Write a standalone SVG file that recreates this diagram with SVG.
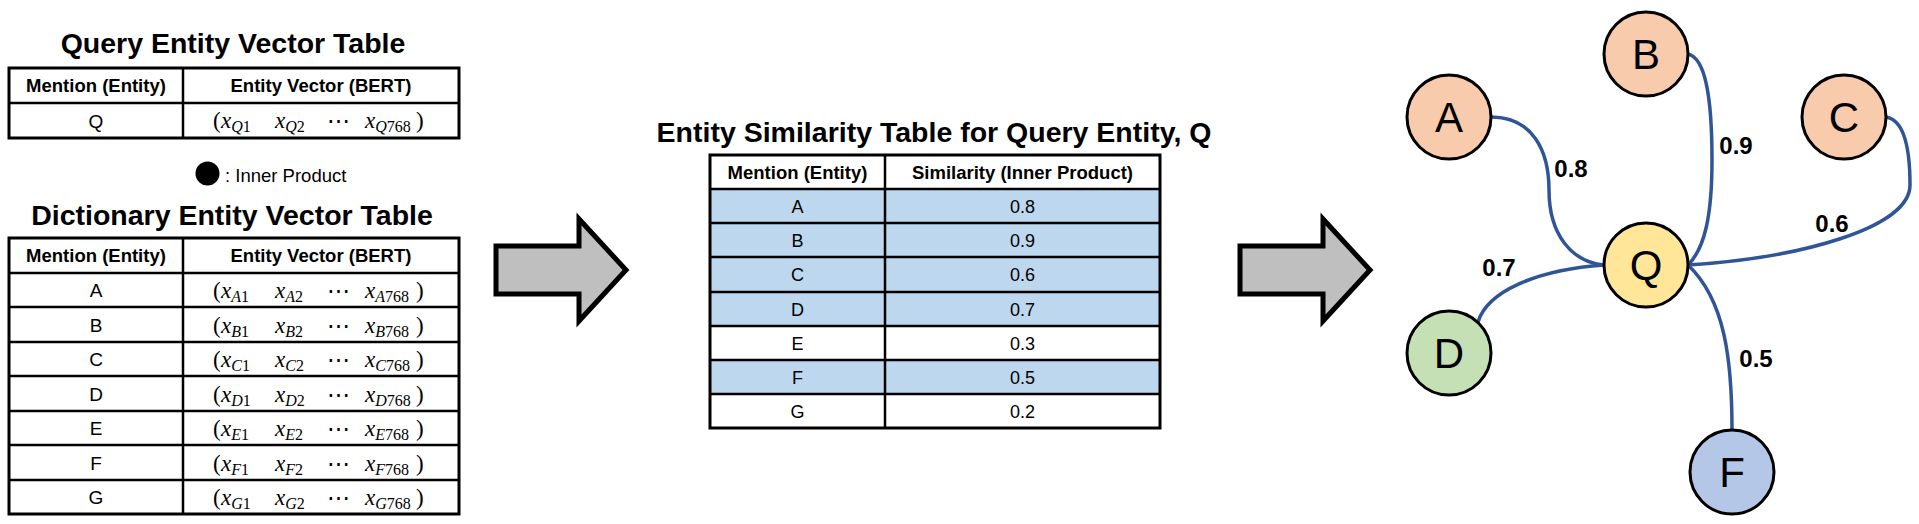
<svg xmlns="http://www.w3.org/2000/svg" width="1919" height="524" viewBox="0 0 1919 524">
<style>
text{font-family:"Liberation Sans",Arial,sans-serif;fill:#000}
.title{font-weight:bold;font-size:28.5px;text-anchor:middle}
.hdr{font-weight:bold;font-size:18.5px;text-anchor:middle}
.cell{font-size:19px;text-anchor:middle}
.scell{font-size:18px;text-anchor:middle}
.vec{font-family:"Liberation Serif","DejaVu Serif",serif;font-size:23px}
.it{font-style:italic}
.sub{font-size:16px}
.grid{stroke:#000;stroke-width:3;fill:none}
.ln{stroke:#000;stroke-width:2.5}
.node circle{stroke:#000;stroke-width:3}
.node text{font-size:42px;text-anchor:middle}
.edge{fill:none;stroke:#2F5597;stroke-width:3.5}
.elab{font-weight:bold;font-size:24px;text-anchor:middle}
.bigarrow{fill:#BFBFBF;stroke:#000;stroke-width:5;stroke-linejoin:miter}
.blue{fill:#BDD7EE}
</style>
<rect width="1919" height="524" fill="#fff"/>

<!-- Query table -->
<g id="query-table">
<text class="title" x="233" y="53">Query Entity Vector Table</text>
<rect class="grid" x="9" y="68" width="450" height="70"/>
<line class="ln" x1="183" y1="68" x2="183" y2="138"/>
<line class="ln" x1="9" y1="103" x2="459" y2="103"/>
<text class="hdr" x="96" y="92">Mention (Entity)</text>
<text class="hdr" x="321" y="92">Entity Vector (BERT)</text>
<text class="cell" x="96" y="127.5">Q</text>
<g transform="translate(0,128)">
<text class="vec" x="213">(</text>
<text class="vec" x="221"><tspan class="it">x</tspan><tspan class="sub" dy="4"><tspan class="it">Q</tspan>1</tspan></text>
<text class="vec" x="275"><tspan class="it">x</tspan><tspan class="sub" dy="4"><tspan class="it">Q</tspan>2</tspan></text>
<text class="vec" x="327">⋯</text>
<text class="vec" x="365"><tspan class="it">x</tspan><tspan class="sub" dy="4"><tspan class="it">Q</tspan>768</tspan></text>
<text class="vec" x="416">)</text>
</g>
</g>

<!-- Legend -->
<g id="legend">
<circle cx="207.5" cy="173.5" r="12" fill="#000"/>
<text x="225" y="182" font-size="18.5">: Inner Product</text>
</g>

<!-- Dictionary table -->
<g id="dictionary-table">
<text class="title" x="232" y="225">Dictionary Entity Vector Table</text>
<rect class="grid" x="9" y="238" width="450" height="276"/>
<line class="ln" x1="183" y1="238" x2="183" y2="514"/>
<line class="ln" x1="9" y1="273" x2="459" y2="273"/>
<line class="ln" x1="9" y1="307" x2="459" y2="307"/>
<line class="ln" x1="9" y1="342" x2="459" y2="342"/>
<line class="ln" x1="9" y1="376" x2="459" y2="376"/>
<line class="ln" x1="9" y1="411" x2="459" y2="411"/>
<line class="ln" x1="9" y1="445" x2="459" y2="445"/>
<line class="ln" x1="9" y1="480" x2="459" y2="480"/>
<text class="hdr" x="96" y="262">Mention (Entity)</text>
<text class="hdr" x="321" y="262">Entity Vector (BERT)</text>
<text class="cell" x="96" y="297">A</text>
<text class="cell" x="96" y="331.5">B</text>
<text class="cell" x="96" y="366">C</text>
<text class="cell" x="96" y="400.5">D</text>
<text class="cell" x="96" y="435">E</text>
<text class="cell" x="96" y="469.5">F</text>
<text class="cell" x="96" y="504">G</text>
<g transform="translate(0,298)">
<text class="vec" x="213">(</text>
<text class="vec" x="221"><tspan class="it">x</tspan><tspan class="sub" dy="4"><tspan class="it">A</tspan>1</tspan></text>
<text class="vec" x="275"><tspan class="it">x</tspan><tspan class="sub" dy="4"><tspan class="it">A</tspan>2</tspan></text>
<text class="vec" x="327">⋯</text>
<text class="vec" x="365"><tspan class="it">x</tspan><tspan class="sub" dy="4"><tspan class="it">A</tspan>768</tspan></text>
<text class="vec" x="416">)</text>
</g>
<g transform="translate(0,332.5)">
<text class="vec" x="213">(</text>
<text class="vec" x="221"><tspan class="it">x</tspan><tspan class="sub" dy="4"><tspan class="it">B</tspan>1</tspan></text>
<text class="vec" x="275"><tspan class="it">x</tspan><tspan class="sub" dy="4"><tspan class="it">B</tspan>2</tspan></text>
<text class="vec" x="327">⋯</text>
<text class="vec" x="365"><tspan class="it">x</tspan><tspan class="sub" dy="4"><tspan class="it">B</tspan>768</tspan></text>
<text class="vec" x="416">)</text>
</g>
<g transform="translate(0,367)">
<text class="vec" x="213">(</text>
<text class="vec" x="221"><tspan class="it">x</tspan><tspan class="sub" dy="4"><tspan class="it">C</tspan>1</tspan></text>
<text class="vec" x="275"><tspan class="it">x</tspan><tspan class="sub" dy="4"><tspan class="it">C</tspan>2</tspan></text>
<text class="vec" x="327">⋯</text>
<text class="vec" x="365"><tspan class="it">x</tspan><tspan class="sub" dy="4"><tspan class="it">C</tspan>768</tspan></text>
<text class="vec" x="416">)</text>
</g>
<g transform="translate(0,401.5)">
<text class="vec" x="213">(</text>
<text class="vec" x="221"><tspan class="it">x</tspan><tspan class="sub" dy="4"><tspan class="it">D</tspan>1</tspan></text>
<text class="vec" x="275"><tspan class="it">x</tspan><tspan class="sub" dy="4"><tspan class="it">D</tspan>2</tspan></text>
<text class="vec" x="327">⋯</text>
<text class="vec" x="365"><tspan class="it">x</tspan><tspan class="sub" dy="4"><tspan class="it">D</tspan>768</tspan></text>
<text class="vec" x="416">)</text>
</g>
<g transform="translate(0,436)">
<text class="vec" x="213">(</text>
<text class="vec" x="221"><tspan class="it">x</tspan><tspan class="sub" dy="4"><tspan class="it">E</tspan>1</tspan></text>
<text class="vec" x="275"><tspan class="it">x</tspan><tspan class="sub" dy="4"><tspan class="it">E</tspan>2</tspan></text>
<text class="vec" x="327">⋯</text>
<text class="vec" x="365"><tspan class="it">x</tspan><tspan class="sub" dy="4"><tspan class="it">E</tspan>768</tspan></text>
<text class="vec" x="416">)</text>
</g>
<g transform="translate(0,470.5)">
<text class="vec" x="213">(</text>
<text class="vec" x="221"><tspan class="it">x</tspan><tspan class="sub" dy="4"><tspan class="it">F</tspan>1</tspan></text>
<text class="vec" x="275"><tspan class="it">x</tspan><tspan class="sub" dy="4"><tspan class="it">F</tspan>2</tspan></text>
<text class="vec" x="327">⋯</text>
<text class="vec" x="365"><tspan class="it">x</tspan><tspan class="sub" dy="4"><tspan class="it">F</tspan>768</tspan></text>
<text class="vec" x="416">)</text>
</g>
<g transform="translate(0,505)">
<text class="vec" x="213">(</text>
<text class="vec" x="221"><tspan class="it">x</tspan><tspan class="sub" dy="4"><tspan class="it">G</tspan>1</tspan></text>
<text class="vec" x="275"><tspan class="it">x</tspan><tspan class="sub" dy="4"><tspan class="it">G</tspan>2</tspan></text>
<text class="vec" x="327">⋯</text>
<text class="vec" x="365"><tspan class="it">x</tspan><tspan class="sub" dy="4"><tspan class="it">G</tspan>768</tspan></text>
<text class="vec" x="416">)</text>
</g>
</g>

<!-- Big arrows -->
<g id="arrow-1">
<path class="bigarrow" d="M496,246 L579,246 L579,219 L626,270 L579,321 L579,294 L496,294 Z"/>
</g>
<g id="arrow-2">
<path class="bigarrow" d="M1240,246 L1323,246 L1323,219 L1370,270 L1323,321 L1323,294 L1240,294 Z"/>
</g>

<!-- Similarity table -->
<g id="similarity-table">
<text class="title" x="934" y="142">Entity Similarity Table for Query Entity, Q</text>
<rect class="blue" x="710" y="189" width="450" height="137"/>
<rect class="blue" x="710" y="360" width="450" height="34"/>
<rect class="grid" x="710" y="155" width="450" height="273"/>
<line class="ln" x1="885" y1="155" x2="885" y2="428"/>
<line class="ln" x1="710" y1="189" x2="1160" y2="189"/>
<line class="ln" x1="710" y1="223" x2="1160" y2="223"/>
<line class="ln" x1="710" y1="257" x2="1160" y2="257"/>
<line class="ln" x1="710" y1="292" x2="1160" y2="292"/>
<line class="ln" x1="710" y1="326" x2="1160" y2="326"/>
<line class="ln" x1="710" y1="360" x2="1160" y2="360"/>
<line class="ln" x1="710" y1="394" x2="1160" y2="394"/>
<text class="hdr" x="797.5" y="178.5">Mention (Entity)</text>
<text class="hdr" x="1022.5" y="178.5">Similarity (Inner Product)</text>
<text class="scell" x="797.5" y="212.5">A</text><text class="scell" x="1022.5" y="212.5">0.8</text>
<text class="scell" x="797.5" y="246.5">B</text><text class="scell" x="1022.5" y="246.5">0.9</text>
<text class="scell" x="797.5" y="281">C</text><text class="scell" x="1022.5" y="281">0.6</text>
<text class="scell" x="797.5" y="315.5">D</text><text class="scell" x="1022.5" y="315.5">0.7</text>
<text class="scell" x="797.5" y="349.5">E</text><text class="scell" x="1022.5" y="349.5">0.3</text>
<text class="scell" x="797.5" y="383.5">F</text><text class="scell" x="1022.5" y="383.5">0.5</text>
<text class="scell" x="797.5" y="417.5">G</text><text class="scell" x="1022.5" y="417.5">0.2</text>
</g>

<!-- Connectors -->
<g id="connectors">
<path class="edge" d="M1491,117 C1532,117 1549,150 1549,190 C1549,235 1572,262 1604,265"/>
<path class="edge" d="M1688,54 C1706,58 1712,100 1712,160 C1712,215 1705,248 1688,265"/>
<path class="edge" d="M1886,117 C1905,120 1910,150 1910,185 C1910,228 1800,258 1688,265"/>
<path class="edge" d="M1478,322 C1487,292 1535,270 1604,265"/>
<path class="edge" d="M1732,430 C1732,360 1725,300 1688,265"/>
<text class="elab" x="1571" y="177">0.8</text>
<text class="elab" x="1736" y="154">0.9</text>
<text class="elab" x="1832" y="232">0.6</text>
<text class="elab" x="1499" y="276">0.7</text>
<text class="elab" x="1756" y="367">0.5</text>
</g>

<!-- Nodes -->
<g id="node-A" class="node"><circle cx="1449" cy="117" r="42" fill="#F8CBAD"/><text x="1449" y="132">A</text></g>
<g id="node-B" class="node"><circle cx="1646" cy="54" r="42" fill="#F8CBAD"/><text x="1646" y="69">B</text></g>
<g id="node-C" class="node"><circle cx="1844" cy="117" r="42" fill="#F8CBAD"/><text x="1844" y="132">C</text></g>
<g id="node-Q" class="node"><circle cx="1646" cy="265" r="42" fill="#FFE699"/><text x="1646" y="280">Q</text></g>
<g id="node-D" class="node"><circle cx="1449" cy="353" r="42" fill="#C5E0B4"/><text x="1449" y="368">D</text></g>
<g id="node-F" class="node"><circle cx="1732" cy="472" r="42" fill="#B4C7E7"/><text x="1732" y="487">F</text></g>
</svg>
